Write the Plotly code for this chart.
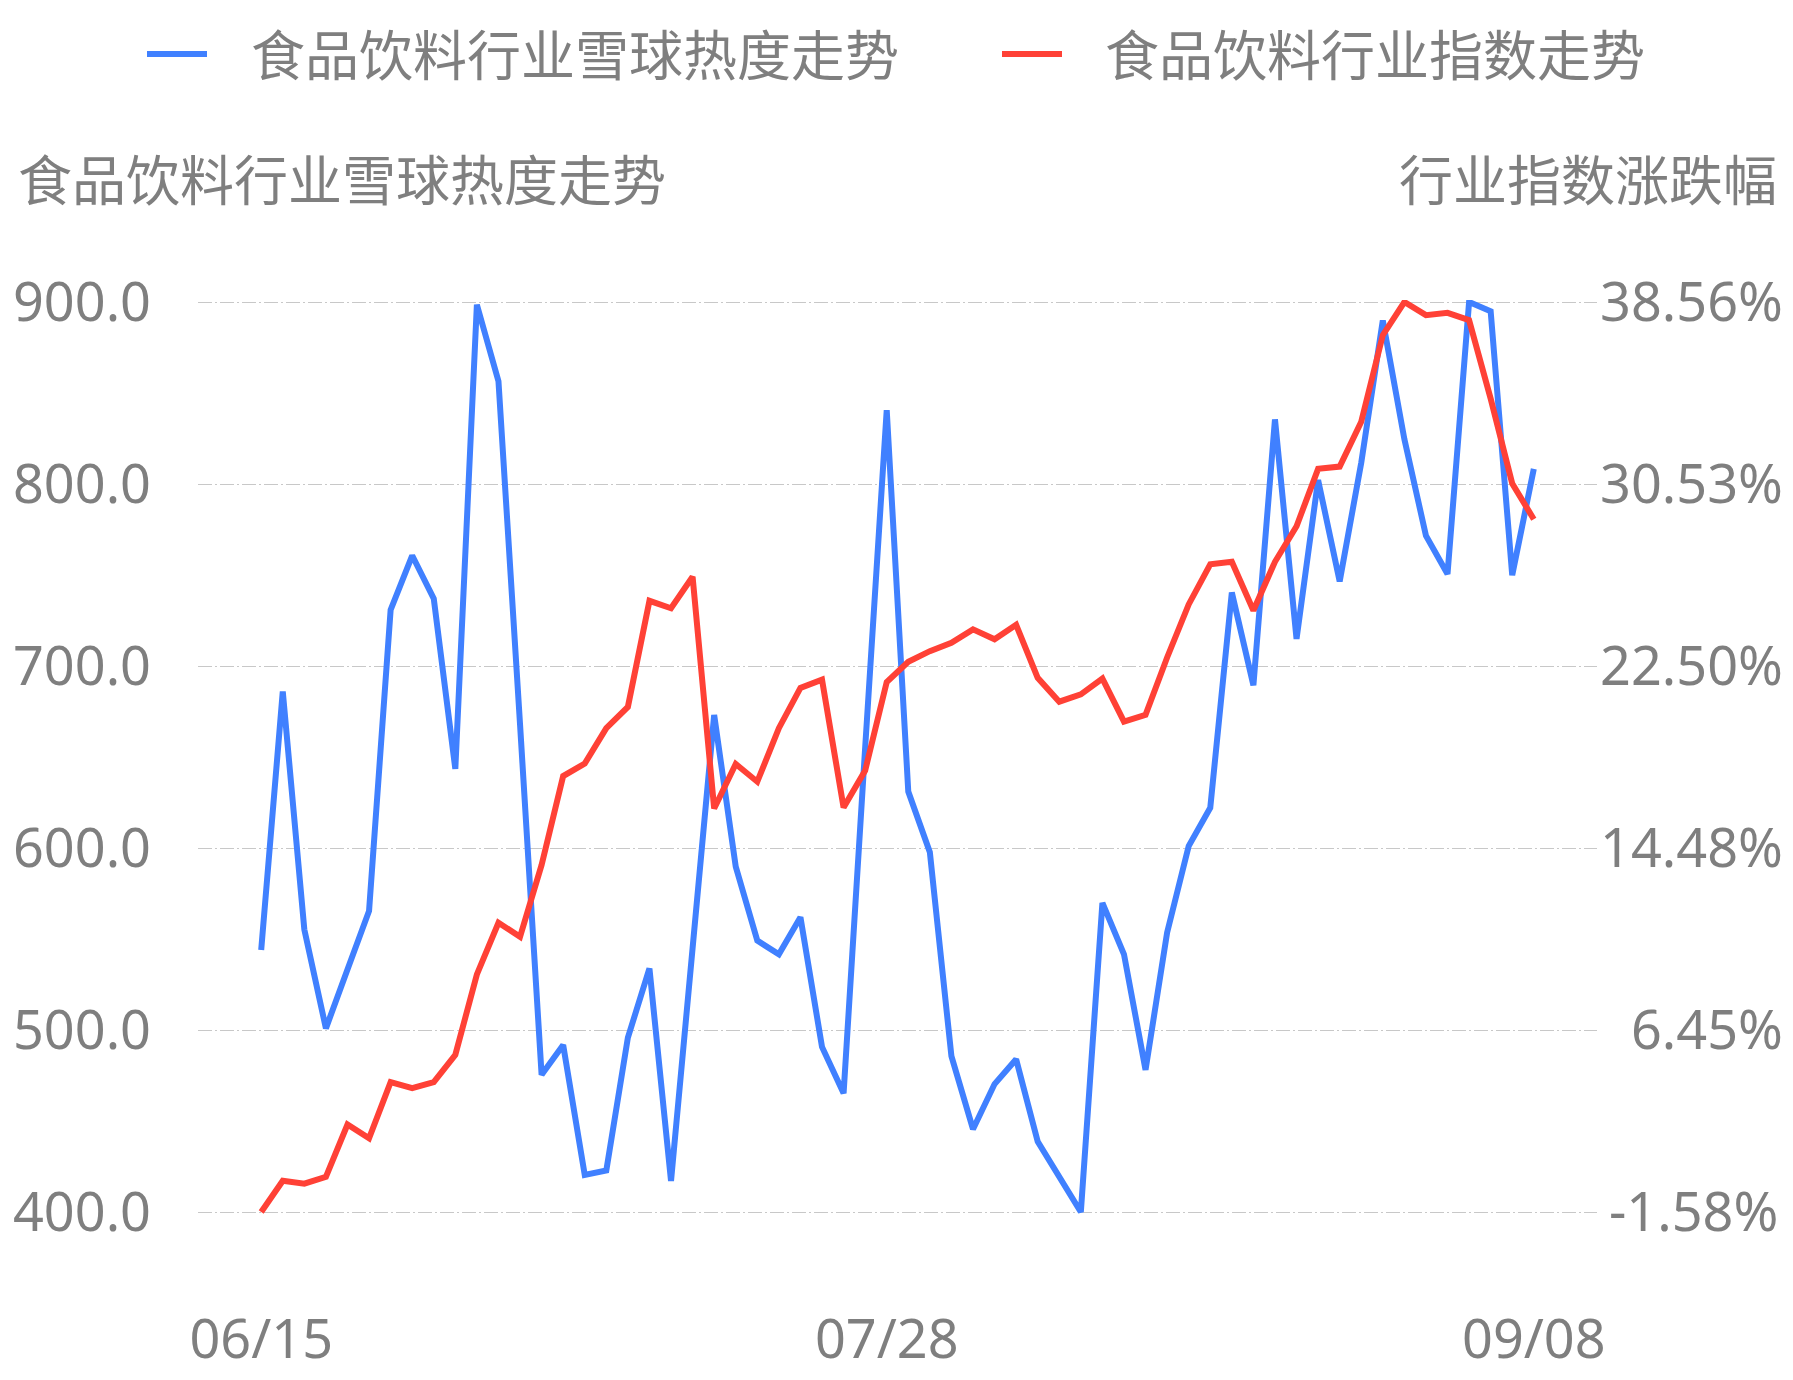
import plotly.graph_objects as go

# ---------------- data ----------------
dates = [
    "06/15", "06/16", "06/19", "06/20", "06/21", "06/26", "06/27", "06/28", "06/29", "06/30",
    "07/03", "07/04", "07/05", "07/06", "07/07", "07/10", "07/11", "07/12", "07/13", "07/14",
    "07/17", "07/18", "07/19", "07/20", "07/21", "07/24", "07/25", "07/26", "07/27", "07/28",
    "07/31", "08/01", "08/02", "08/03", "08/04", "08/07", "08/08", "08/09", "08/10", "08/11",
    "08/14", "08/15", "08/16", "08/17", "08/18", "08/21", "08/22", "08/23", "08/24", "08/25",
    "08/28", "08/29", "08/30", "08/31", "09/01", "09/04", "09/05", "09/06", "09/07", "09/08",
]

heat = [
    544.0, 686.0, 555.2, 500.9, 533.2, 565.4, 730.8, 760.7, 737.0, 643.5,
    898.5, 856.5, 668.0, 475.4, 491.7, 420.4, 422.8, 495.8, 533.8, 417.0,
    545.0, 673.1, 589.8, 549.1, 541.6, 562.0, 490.7, 465.2, 655.0, 840.6,
    631.0, 597.7, 485.6, 445.5, 470.3, 483.9, 438.7, 419.0, 400.0, 569.8,
    541.6, 478.1, 553.5, 601.1, 622.1, 740.4, 689.4, 835.5, 714.9, 802.2,
    746.5, 811.7, 889.8, 824.6, 771.6, 750.5, 900.0, 894.9, 749.9, 808.3,
]

index_change = [
    -1.58, -0.20, -0.33, -0.03, 2.28, 1.67, 4.15, 3.88, 4.15, 5.35,
    8.90, 11.18, 10.56, 13.73, 17.65, 18.20, 19.76, 20.70, 25.38, 25.05,
    26.44, 16.22, 18.18, 17.40, 19.76, 21.54, 21.90, 16.26, 17.89, 21.80,
    22.69, 23.16, 23.53, 24.12, 23.68, 24.32, 21.98, 20.93, 21.25, 21.95,
    20.05, 20.35, 22.88, 25.22, 26.99, 27.10, 24.95, 27.10, 28.67, 31.20,
    31.30, 33.28, 37.10, 38.56, 37.98, 38.08, 37.76, 34.30, 30.55, 28.98,
]

x_tick_labels = ["06/15", "07/28", "09/08"]
left_ticks = [400, 500, 600, 700, 800, 900]
left_tick_text = ["400.0", "500.0", "600.0", "700.0", "800.0", "900.0"]
right_ticks = [-1.58, 6.45, 14.48, 22.50, 30.53, 38.56]
right_tick_text = ["\u2009-1.58%", "\u20076.45%", "14.48%", "22.50%", "30.53%", "38.56%"]

series_names = ["食品饮料行业雪球热度走势", "食品饮料行业指数走势"]
left_title = "食品饮料行业雪球热度走势"
right_title = "行业指数涨跌幅"

# ---------------- style ----------------
BLUE = "#4080ff"
RED = "#ff4136"
TEXT = "#7f7f7f"
GRID = "#c8c8c8"
FONT = "Noto Sans, Noto Sans CJK SC, sans-serif"
FS = 54

W, H = 1793, 1380
EDGE = 2  # px of padding so the edge gridlines are not clipped
ML, MR, MT, MB = 198, 196, 302 - EDGE, 168 - EDGE
PW = W - ML - MR
PH = H - MT - MB


def px_x(p):
    return (p - ML) / PW


def px_y(p):
    return (H - MB - p) / PH


GRID_PH = PH - 2 * EDGE
lpad = (left_ticks[-1] - left_ticks[0]) * EDGE / GRID_PH
rpad = (right_ticks[-1] - right_ticks[0]) * EDGE / GRID_PH

fig = go.Figure()
fig.add_trace(go.Scatter(
    x=dates, y=heat, mode="lines", name=series_names[0],
    line=dict(color=BLUE, width=6), yaxis="y", showlegend=False,
))
fig.add_trace(go.Scatter(
    x=dates, y=index_change, mode="lines", name=series_names[1],
    line=dict(color=RED, width=6), yaxis="y2", showlegend=False,
))

fig.update_layout(
    width=W, height=H, autosize=False,
    margin=dict(l=ML, r=MR, t=MT, b=MB, autoexpand=False),
    paper_bgcolor="white", plot_bgcolor="white",
    font=dict(family=FONT, size=FS, color=TEXT),
    xaxis=dict(
        type="category", automargin=False,
        range=[-2.93, len(dates) - 1 + 2.93],
        tickmode="array", tickvals=x_tick_labels, ticktext=x_tick_labels,
        showgrid=False, zeroline=False, showline=False, ticks="",
        tickfont=dict(size=FS, color=TEXT, family=FONT),
        ticklabelstandoff=89,
    ),
    yaxis=dict(
        automargin=False,
        range=[left_ticks[0] - lpad, left_ticks[-1] + lpad],
        tickmode="array", tickvals=left_ticks, ticktext=left_tick_text,
        showgrid=True, gridcolor=GRID, gridwidth=1.3, griddash="14px,3px,2px,3px",
        zeroline=False, showline=False, ticks="",
        tickfont=dict(size=FS, color=TEXT, family=FONT),
        ticklabelstandoff=46,
    ),
    yaxis2=dict(
        automargin=False,
        range=[right_ticks[0] - rpad, right_ticks[-1] + rpad],
        overlaying="y", side="right",
        tickmode="array", tickvals=right_ticks, ticktext=right_tick_text,
        showgrid=False, zeroline=False, showline=False, ticks="",
        tickfont=dict(size=FS, color=TEXT, family=FONT),
        ticklabelstandoff=2,
    ),
    showlegend=False,
)

# axis titles
fig.add_annotation(text=left_title, xref="paper", yref="paper",
                   x=px_x(16), y=px_y(180), xanchor="left", yanchor="middle",
                   showarrow=False, font=dict(size=FS, color=TEXT, family=FONT))
fig.add_annotation(text=right_title, xref="paper", yref="paper",
                   x=px_x(1779), y=px_y(180), xanchor="right", yanchor="middle",
                   showarrow=False, font=dict(size=FS, color=TEXT, family=FONT))

# legend (manual)
legend_items = [
    (series_names[0], BLUE, 147, 207, 249),
    (series_names[1], RED, 1002, 1062, 1103),
]
for name, col, x0, x1, tx in legend_items:
    fig.add_shape(type="line", xref="paper", yref="paper",
                  x0=px_x(x0), x1=px_x(x1), y0=px_y(54), y1=px_y(54),
                  line=dict(color=col, width=6))
    fig.add_annotation(text=name, xref="paper", yref="paper",
                       x=px_x(tx), y=px_y(55), xanchor="left", yanchor="middle",
                       showarrow=False, font=dict(size=FS, color=TEXT, family=FONT))

fig.write_html("out.html",
               config={"displayModeBar": False},
               post_script="document.body.style.margin='0';document.body.style.overflow='hidden';")
